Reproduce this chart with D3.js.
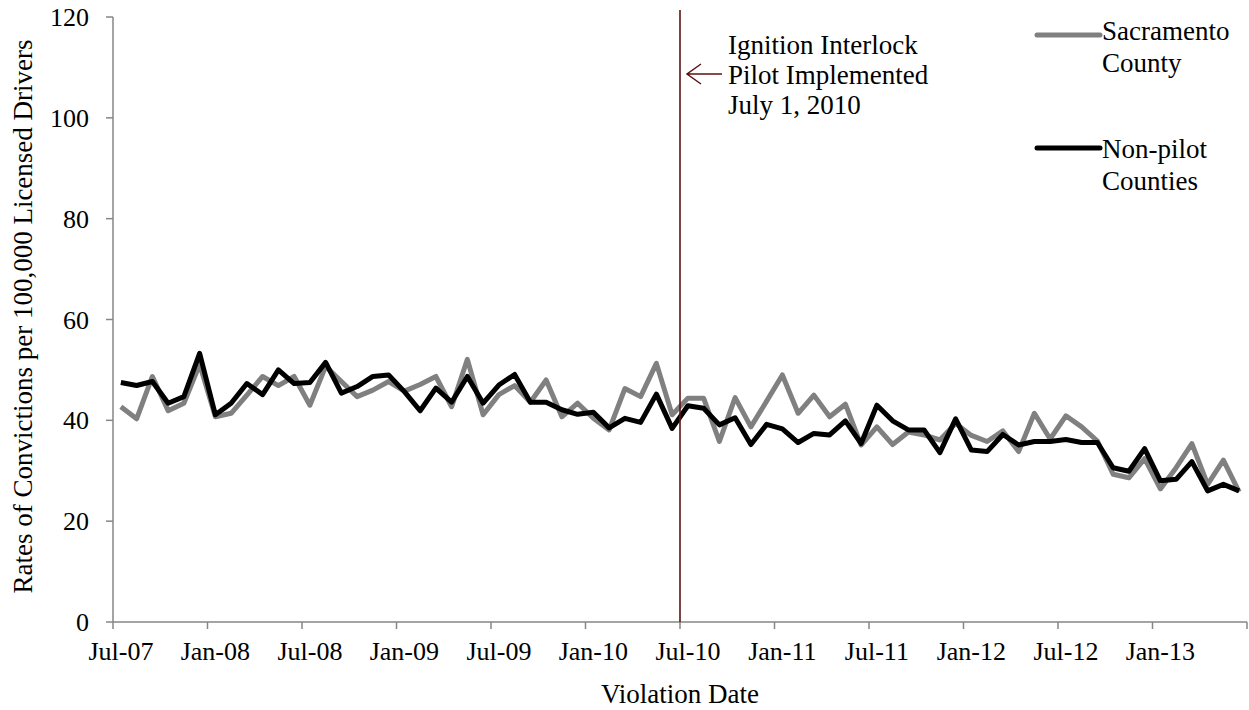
<!DOCTYPE html>
<html>
<head>
<meta charset="utf-8">
<script src="https://cdn.jsdelivr.net/npm/d3@7"></script>
<style>
  html, body { margin: 0; padding: 0; background: #fff; }
  svg { display: block; }
  text { font-family: "Liberation Serif", "Times New Roman", serif; fill: #000; }
</style>
</head>
<body>
<svg id="chart" width="1249" height="710"></svg>
<script>
const categories = [
  "Jul-07","Aug-07","Sep-07","Oct-07","Nov-07","Dec-07",
  "Jan-08","Feb-08","Mar-08","Apr-08","May-08","Jun-08",
  "Jul-08","Aug-08","Sep-08","Oct-08","Nov-08","Dec-08",
  "Jan-09","Feb-09","Mar-09","Apr-09","May-09","Jun-09",
  "Jul-09","Aug-09","Sep-09","Oct-09","Nov-09","Dec-09",
  "Jan-10","Feb-10","Mar-10","Apr-10","May-10","Jun-10",
  "Jul-10","Aug-10","Sep-10","Oct-10","Nov-10","Dec-10",
  "Jan-11","Feb-11","Mar-11","Apr-11","May-11","Jun-11",
  "Jul-11","Aug-11","Sep-11","Oct-11","Nov-11","Dec-11",
  "Jan-12","Feb-12","Mar-12","Apr-12","May-12","Jun-12",
  "Jul-12","Aug-12","Sep-12","Oct-12","Nov-12","Dec-12",
  "Jan-13","Feb-13","Mar-13","Apr-13","May-13","Jun-13"
];

const sacramento = [
  42.7, 40.3, 48.7, 41.9, 43.4, 51.1,
  40.7, 41.4, 45.0, 48.7, 46.9, 48.7,
  43.0, 50.7, 47.7, 44.7, 46.0, 47.7,
  45.8, 47.1, 48.7, 42.7, 52.1, 41.1,
  45.1, 46.9, 43.6, 48.0, 40.7, 43.4,
  40.4, 38.1, 46.3, 44.7, 51.3, 41.1,
  44.4, 44.4, 35.8, 44.5, 38.7, 43.8,
  49.0, 41.4, 45.0, 40.7, 43.2, 35.1,
  38.7, 35.2, 37.7, 37.1, 36.1, 39.4,
  37.0, 35.8, 37.9, 33.8, 41.4, 36.3,
  40.9, 38.7, 35.9, 29.3, 28.6, 32.4,
  26.4, 30.6, 35.4, 27.3, 32.1, 25.8
];

const nonPilot = [
  47.5, 46.9, 47.7, 43.4, 44.7, 53.3,
  41.1, 43.4, 47.3, 45.1, 50.0, 47.3,
  47.5, 51.5, 45.4, 46.7, 48.7, 49.0,
  45.7, 41.9, 46.4, 43.6, 48.7, 43.4,
  47.0, 49.1, 43.6, 43.6, 42.1, 41.2,
  41.6, 38.5, 40.4, 39.6, 45.2, 38.4,
  42.9, 42.4, 39.1, 40.5, 35.2, 39.2,
  38.3, 35.6, 37.4, 37.1, 39.9, 35.4,
  43.0, 39.9, 38.1, 38.1, 33.6, 40.3,
  34.1, 33.8, 37.2, 35.1, 35.8, 35.8,
  36.2, 35.6, 35.6, 30.6, 29.9, 34.4,
  28.0, 28.3, 31.8, 26.0, 27.3, 26.0
];

const xTickLabels = ["Jul-07","Jan-08","Jul-08","Jan-09","Jul-09","Jan-10","Jul-10","Jan-11","Jul-11","Jan-12","Jul-12","Jan-13"];
const yTicks = [0, 20, 40, 60, 80, 100, 120];
const seriesNames = ["Sacramento County", "Non-pilot Counties"];
const annotationLines = ["Ignition Interlock", "Pilot Implemented", "July 1, 2010"];
const pilotStart = "Jul-10";

(function () {
const svg = d3.select("#chart");
const pL = 113, pR = 1247, pT = 17, pB = 622;
const axisColor = "#868686";
const FS = 26, FT = 27;

const x = d3.scaleBand().domain(categories).range([pL, pR]).padding(0);
const y = d3.scaleLinear().domain([0, 120]).range([pB, pT]);
const cx = c => x(c) + x.bandwidth() / 2;

// Y axis
const yAxis = svg.append("g");
yAxis.append("line").attr("x1", pL).attr("x2", pL).attr("y1", y(0)).attr("y2", y(120))
  .attr("stroke", axisColor).attr("stroke-width", 1.5);
yTicks.forEach(t => {
  yAxis.append("line").attr("x1", pL - 7).attr("x2", pL).attr("y1", y(t)).attr("y2", y(t))
    .attr("stroke", axisColor).attr("stroke-width", 1.5);
  yAxis.append("text").attr("x", pL - 24).attr("y", y(t)).attr("dy", "0.35em")
    .attr("text-anchor", "end").attr("font-size", FS).text(t);
});

// X axis
const xAxis = svg.append("g");
xAxis.append("line").attr("x1", pL).attr("x2", pR).attr("y1", pB).attr("y2", pB)
  .attr("stroke", axisColor).attr("stroke-width", 1.5);
const tickCats = categories.filter((c, i) => i % 6 === 0);
tickCats.forEach(c => {
  xAxis.append("line").attr("x1", x(c)).attr("x2", x(c)).attr("y1", pB).attr("y2", pB + 7)
    .attr("stroke", axisColor).attr("stroke-width", 1.5);
});
xAxis.append("line").attr("x1", pR).attr("x2", pR).attr("y1", pB).attr("y2", pB + 7)
  .attr("stroke", axisColor).attr("stroke-width", 1.5);
xTickLabels.forEach(l => {
  xAxis.append("text").attr("x", cx(l)).attr("y", 660)
    .attr("text-anchor", "middle").attr("font-size", FS).text(l);
});

// Axis titles
svg.append("text").attr("x", (pL + pR) / 2).attr("y", 703)
  .attr("text-anchor", "middle").attr("font-size", FT).text("Violation Date");
svg.append("text").attr("transform", `translate(32,${(pT + pB) / 2 - 3}) rotate(-90)`)
  .attr("text-anchor", "middle").attr("font-size", FT)
  .text("Rates of Convictions per 100,000 Licensed Drivers");

// Series
const line = d3.line().x((d, i) => cx(categories[i])).y(d => y(d));
svg.append("path").datum(sacramento).attr("d", line).attr("fill", "none")
  .attr("stroke", "#808080").attr("stroke-width", 5).attr("stroke-linejoin", "round");
svg.append("path").datum(nonPilot).attr("d", line).attr("fill", "none")
  .attr("stroke", "#000").attr("stroke-width", 5).attr("stroke-linejoin", "round");

// Pilot vertical line
const red = "#5c1212";
const vx = x(pilotStart);
svg.append("line").attr("x1", vx).attr("x2", vx).attr("y1", 10).attr("y2", pB)
  .attr("stroke", red).attr("stroke-width", 1.6);

// Annotation
const ann = svg.append("g");
annotationLines.forEach((t, i) => {
  ann.append("text").attr("x", 728).attr("y", 54 + i * 30).attr("font-size", FT).text(t);
});
ann.append("path").attr("d", "M687,74 L722,74 M701,64 L687,74 L701,84")
  .attr("fill", "none").attr("stroke", red).attr("stroke-width", 1.5);

// Legend
const legend = svg.append("g");
const legendDefs = [
  { color: "#808080", ly: 35, lines: ["Sacramento", "County"], ty: 40 },
  { color: "#000", ly: 148, lines: ["Non-pilot", "Counties"], ty: 158 }
];
legendDefs.forEach(d => {
  legend.append("line").attr("x1", 1037).attr("x2", 1100).attr("y1", d.ly).attr("y2", d.ly)
    .attr("stroke", d.color).attr("stroke-width", 5).attr("stroke-linecap", "round");
  d.lines.forEach((t, i) => {
    legend.append("text").attr("x", 1102).attr("y", d.ty + i * 32).attr("font-size", FT).text(t);
  });
});
})();
</script>
</body>
</html>
